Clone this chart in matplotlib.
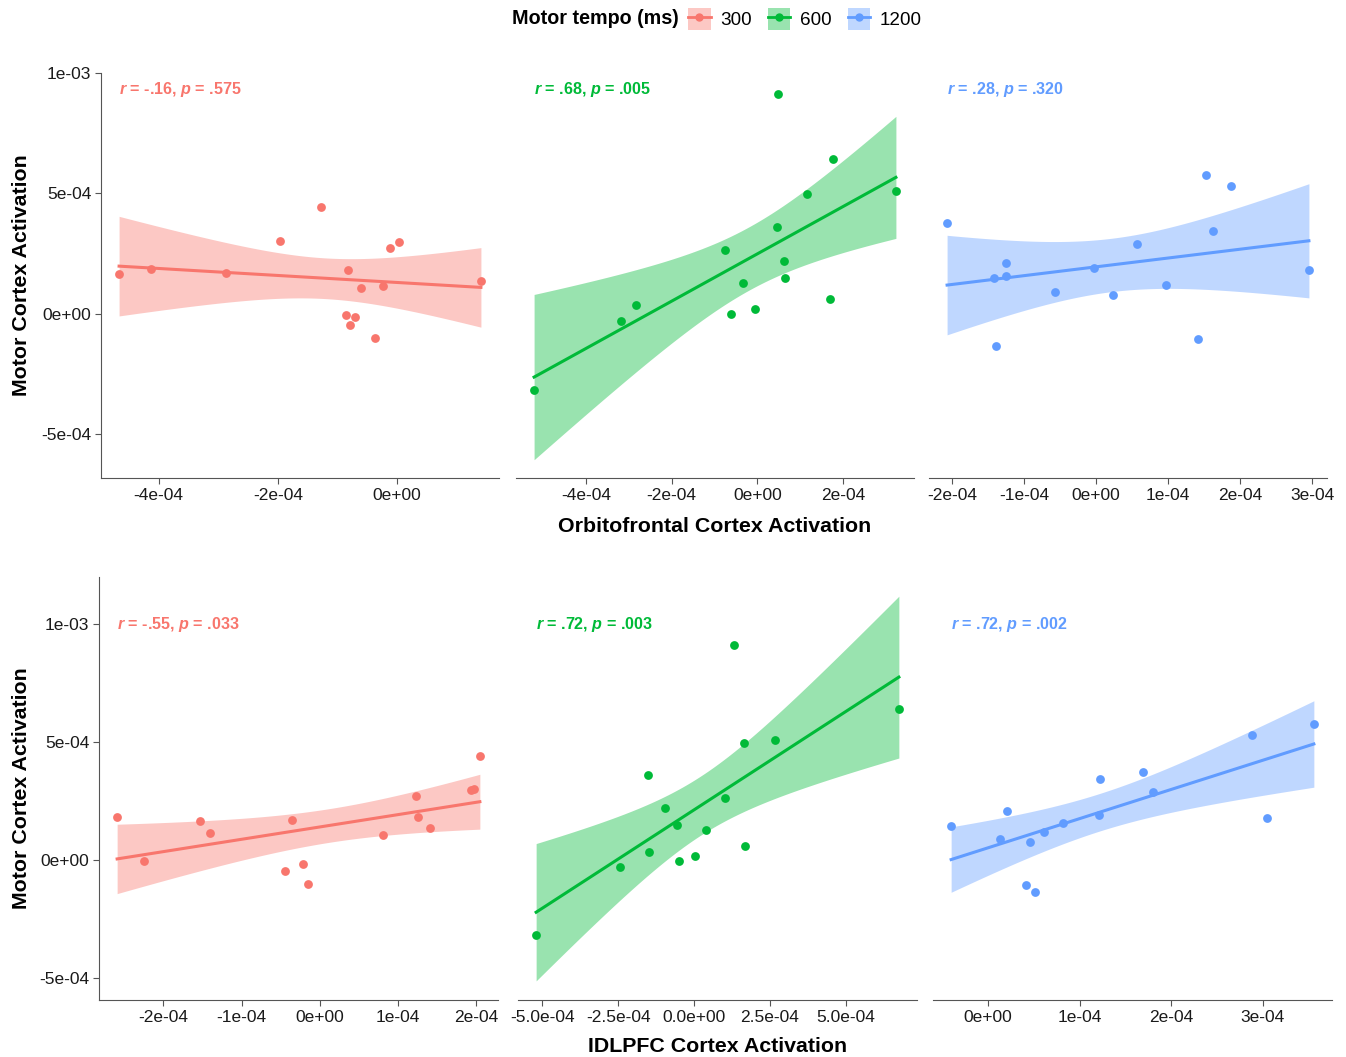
import numpy as np
import matplotlib
matplotlib.use("Agg")
import matplotlib.pyplot as plt
from matplotlib.patches import Patch
from matplotlib.lines import Line2D
from matplotlib.legend_handler import HandlerTuple

plt.rcParams["font.family"] = ["Liberation Sans", "DejaVu Sans"]
plt.rcParams["mathtext.fontset"] = "custom"
plt.rcParams["mathtext.it"] = "Liberation Sans:italic:bold"
plt.rcParams["mathtext.rm"] = "Liberation Sans:bold"

# ---- data ----
tempos = ["300", "600", "1200"]
colors = ["#F8766D", "#00BA38", "#619CFF"]

# motor cortex activation (y), top row
motor_300 = [1.657e-4, 1.838e-4, 1.699e-4, 3.036e-4, 4.429e-4, 1.825e-4, -0.056e-4, -0.153e-4,
             -0.474e-4, 1.086e-4, -1.017e-4, 1.128e-4, 2.730e-4, 2.981e-4, 1.337e-4]
motor_600 = [-3.162e-4, -0.306e-4, 0.348e-4, 2.660e-4, -0.028e-4, 1.267e-4, 0.181e-4, 3.593e-4,
             9.109e-4, 2.187e-4, 1.476e-4, 4.958e-4, 0.613e-4, 6.407e-4, 5.097e-4]
motor_1200 = [3.747e-4, 1.462e-4, -1.365e-4, 2.089e-4, 1.560e-4, 0.905e-4, 1.894e-4, 0.766e-4,
              2.897e-4, 1.184e-4, -1.072e-4, 5.752e-4, 3.426e-4, 5.306e-4, 1.797e-4]

# orbitofrontal cortex activation (x, top row)
ofc_300 = [-4.664e-4, -4.128e-4, -2.873e-4, -1.964e-4, -1.266e-4, -0.820e-4, -0.854e-4, -0.703e-4,
           -0.792e-4, -0.608e-4, -0.363e-4, -0.234e-4, -0.112e-4, 0.028e-4, 1.411e-4]
ofc_600 = [-5.209e-4, -3.178e-4, -2.829e-4, -0.752e-4, -0.620e-4, -0.326e-4, -0.062e-4, 0.457e-4,
           0.488e-4, 0.620e-4, 0.636e-4, 1.155e-4, 1.705e-4, 1.767e-4, 3.233e-4]
ofc_1200 = [-2.068e-4, -1.413e-4, -1.385e-4, -1.256e-4, -1.247e-4, -0.563e-4, -0.023e-4, 0.240e-4,
            0.568e-4, 0.965e-4, 1.413e-4, 1.533e-4, 1.620e-4, 1.874e-4, 2.955e-4]

# motor values for bottom row (own order)
motor2_300 = [1.836e-4, -0.056e-4, 1.653e-4, 1.130e-4, -0.480e-4, 1.695e-4, -0.155e-4, -1.017e-4,
              1.073e-4, 2.712e-4, 1.822e-4, 1.342e-4, 2.966e-4, 3.023e-4, 4.421e-4]
motor2_600 = [-3.164e-4, -0.311e-4, 3.588e-4, 0.339e-4, 2.189e-4, 1.469e-4, -0.028e-4, 0.184e-4,
              1.271e-4, 2.641e-4, 9.110e-4, 4.944e-4, 0.607e-4, 5.099e-4, 6.398e-4]
motor2_1200 = [1.441e-4, 0.904e-4, 2.090e-4, -1.073e-4, 0.749e-4, -1.370e-4, 1.172e-4, 1.568e-4,
               1.893e-4, 3.432e-4, 3.743e-4, 2.895e-4, 5.311e-4, 1.794e-4, 5.763e-4]

# dlPFC cortex activation (x, bottom row)
dlpfc_300 = [-2.591e-4, -2.243e-4, -1.536e-4, -1.400e-4, -0.447e-4, -0.353e-4, -0.221e-4, -0.153e-4,
             0.800e-4, 1.221e-4, 1.255e-4, 1.404e-4, 1.932e-4, 1.966e-4, 2.043e-4]
dlpfc_600 = [-5.209e-4, -2.429e-4, -1.505e-4, -1.495e-4, -0.945e-4, -0.560e-4, -0.484e-4, 0.044e-4,
             0.396e-4, 1.011e-4, 1.308e-4, 1.648e-4, 1.670e-4, 2.681e-4, 6.758e-4]
dlpfc_1200 = [-0.404e-4, 0.131e-4, 0.211e-4, 0.418e-4, 0.458e-4, 0.513e-4, 0.615e-4, 0.822e-4,
              1.211e-4, 1.218e-4, 1.691e-4, 1.800e-4, 2.880e-4, 3.044e-4, 3.556e-4]

stats_top = ["$\\mathit{r}$ = -.16, $\\mathit{p}$ = .575",
             "$\\mathit{r}$ = .68, $\\mathit{p}$ = .005",
             "$\\mathit{r}$ = .28, $\\mathit{p}$ = .320"]
stats_bot = ["$\\mathit{r}$ = -.55, $\\mathit{p}$ = .033",
             "$\\mathit{r}$ = .72, $\\mathit{p}$ = .003",
             "$\\mathit{r}$ = .72, $\\mathit{p}$ = .002"]

yticks = [-5e-4, 0, 5e-4, 1e-3]
yticklabels = ["-5e-04", "0e+00", "5e-04", "1e-03"]

xticks_top = [[-4e-4, -2e-4, 0], [-4e-4, -2e-4, 0, 2e-4], [-2e-4, -1e-4, 0, 1e-4, 2e-4, 3e-4]]
xlabels_top = [["-4e-04", "-2e-04", "0e+00"], ["-4e-04", "-2e-04", "0e+00", "2e-04"],
               ["-2e-04", "-1e-04", "0e+00", "1e-04", "2e-04", "3e-04"]]
xticks_bot = [[-2e-4, -1e-4, 0, 1e-4, 2e-4], [-5e-4, -2.5e-4, 0, 2.5e-4, 5e-4], [0, 1e-4, 2e-4, 3e-4]]
xlabels_bot = [["-2e-04", "-1e-04", "0e+00", "1e-04", "2e-04"],
               ["-5.0e-04", "-2.5e-04", "0.0e+00", "2.5e-04", "5.0e-04"],
               ["0e+00", "1e-04", "2e-04", "3e-04"]]

T_CRIT = 2.160  # t(0.975, df=13), n = 15


def smooth_lm(ax, x, y, col):
    # lm fit with 95% CI band, like geom_smooth(method="lm")
    x = np.array(x)
    y = np.array(y)
    n = len(x)
    b, a = np.polyfit(x, y, 1)
    res = y - (a + b * x)
    s = np.sqrt(np.sum(res ** 2) / (n - 2))
    sxx = np.sum((x - x.mean()) ** 2)
    xs = np.linspace(x.min(), x.max(), 100)
    fit = a + b * xs
    se = s * np.sqrt(1 / n + (xs - x.mean()) ** 2 / sxx)
    ax.fill_between(xs, fit - T_CRIT * se, fit + T_CRIT * se, color=col, alpha=0.4, lw=0, zorder=1)
    ax.plot(xs, fit, color=col, lw=2.2, zorder=2)
    ax.scatter(x, y, s=40, color=col, lw=0, zorder=3)


W, H = 1346, 1057
fig = plt.figure(figsize=(W / 100, H / 100), dpi=100)


def px_axes(left, top, width, height):
    return fig.add_axes([left / W, 1 - (top + height) / H, width / W, height / H])


rows = [
    dict(lefts=[101, 516, 929], top=73, h=405, w=398, ylim=(-6.83e-4, 1.0e-3), ytext=9.33e-4,
         xs=[ofc_300, ofc_600, ofc_1200], ys=[motor_300, motor_600, motor_1200],
         stats=stats_top, xt=xticks_top, xl=xlabels_top),
    dict(lefts=[99, 518, 933], top=577, h=423, w=399, ylim=(-5.93e-4, 1.2e-3), ytext=1.0e-3,
         xs=[dlpfc_300, dlpfc_600, dlpfc_1200], ys=[motor2_300, motor2_600, motor2_1200],
         stats=stats_bot, xt=xticks_bot, xl=xlabels_bot),
]

for r in rows:
    for i in range(3):
        ax = px_axes(r["lefts"][i], r["top"], r["w"], r["h"])
        smooth_lm(ax, r["xs"][i], r["ys"][i], colors[i])
        ax.margins(x=0.05)
        ax.set_ylim(r["ylim"])
        ax.set_xticks(r["xt"][i])
        ax.set_xticklabels(r["xl"][i])
        for sp in ["top", "right"]:
            ax.spines[sp].set_visible(False)
        ax.spines["bottom"].set_color("#555555")
        ax.spines["left"].set_color("#555555")
        ax.tick_params(length=4, width=0.8, color="#555555", labelsize=12.5, labelcolor="#1a1a1a", pad=3)
        if i == 0:
            ax.set_yticks(yticks)
            ax.set_yticklabels(yticklabels)
        else:
            ax.spines["left"].set_visible(False)
            ax.set_yticks([])
        ax.text(min(r["xs"][i]), r["ytext"], r["stats"][i], color=colors[i], fontsize=11.6,
                fontweight="bold", ha="left", va="center")
    # y label for the row
    fig.text(22 / W, 1 - (r["top"] + r["h"] / 2) / H, "Motor Cortex Activation", rotation=90,
             ha="center", va="center", fontsize=15.4, fontweight="bold")

fig.text(715 / W, 1 - 526 / H, "Orbitofrontal Cortex Activation", ha="center", va="center",
         fontsize=15.4, fontweight="bold")
fig.text(718 / W, 1 - 1047 / H, "IDLPFC Cortex Activation", ha="center", va="center",
         fontsize=15.4, fontweight="bold")

# legend on top
fig.text(679 / W, 1 - 19 / H, "Motor tempo (ms)", ha="right", va="center", fontsize=14.2, fontweight="bold")
handles = []
for c in colors:
    handles.append((Patch(facecolor=c, alpha=0.4, edgecolor="none"),
                    Line2D([], [], color=c, lw=2, marker="o", markersize=5)))
fig.legend(handles, tempos, loc="center left", bbox_to_anchor=(688 / W, 1 - 19 / H), ncol=3,
           frameon=False, fontsize=13.6, handlelength=1.2, handleheight=1.45, handletextpad=0.5,
           columnspacing=0.85, borderaxespad=0, borderpad=0,
           handler_map={tuple: HandlerTuple(ndivide=1, pad=0)})

fig.savefig("out.png", dpi=100)
